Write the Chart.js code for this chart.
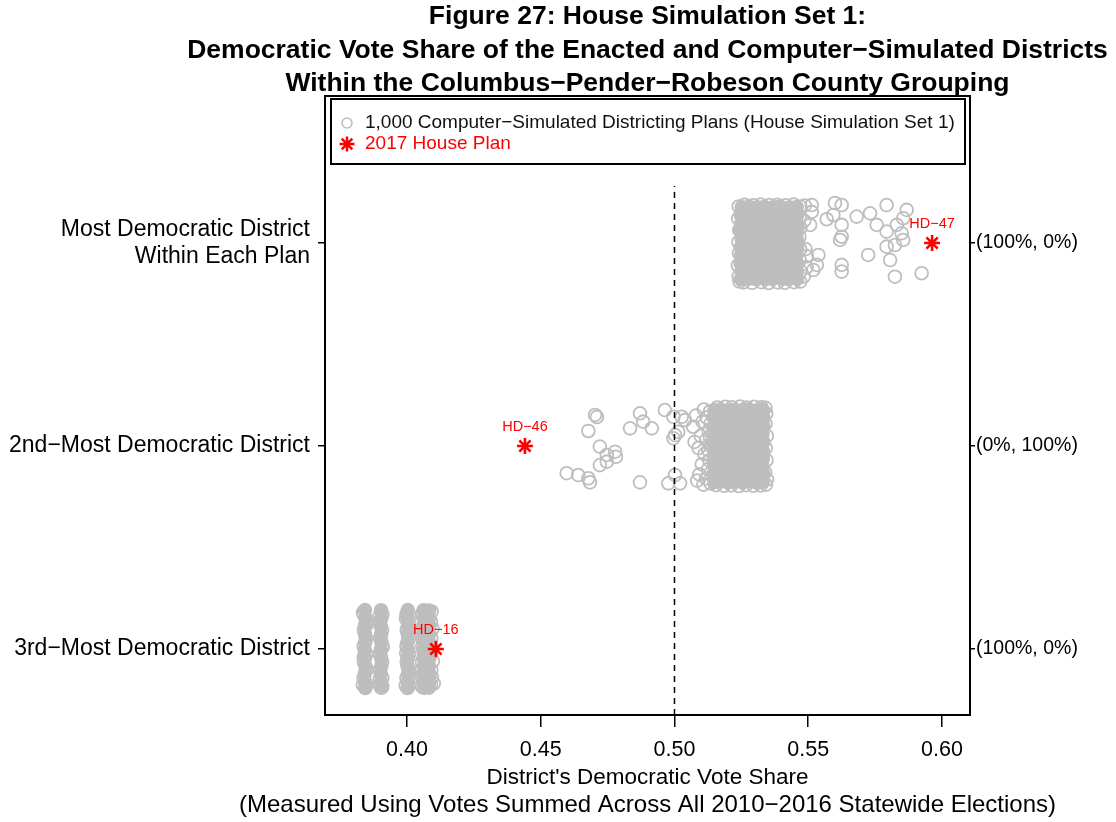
<!DOCTYPE html>
<html>
<head>
<meta charset="utf-8">
<script src="https://cdn.jsdelivr.net/npm/chart.js@4/dist/chart.umd.min.js"></script>
<style>
  html, body { margin: 0; padding: 0; background: #ffffff; }
  #c { display: block; }
</style>
</head>
<body>
<canvas id="c" width="1116" height="822"></canvas>
<script>
// ---- Rows (bottom to top) and the seat outcome shown at the right of each row ----
const districtRows = [
  "3rd\u2212Most Democratic District",
  "2nd\u2212Most Democratic District",
  ["Most Democratic District", "Within Each Plan"]
];
const outcomeLabels = ["(100%, 0%)", "(0%, 100%)", "(100%, 0%)"];
const xTicks = [0.40, 0.45, 0.50, 0.55, 0.60];
const xTitleLines = [
  "District's Democratic Vote Share",
  "(Measured Using Votes Summed Across All 2010\u22122016 Statewide Elections)"
];

// ---- 2017 enacted plan ----
const enactedNames = ["HD\u221216", "HD\u221246", "HD\u221247"];
const enactedShare = [0.4108, 0.4441, 0.5963];

// ---- Simulated plans: [Democratic vote share, vertical jitter within the row] ----
// Most Democratic district (row 3): dense body, its rim, and the scattered high values
const mostDemBody = [
  [0.5251,0.176],[0.5278,0.179],[0.5310,0.175],[0.5336,0.178],[0.5370,0.176],[0.5396,0.179],[0.5430,0.175],[0.5457,0.177],
  [0.5248,0.139],[0.5281,0.136],[0.5307,0.140],[0.5340,0.137],[0.5366,0.139],[0.5399,0.136],[0.5426,0.140],[0.5459,0.138],
  [0.5250,0.097],[0.5277,0.101],[0.5309,0.098],[0.5337,0.100],[0.5369,0.097],[0.5397,0.101],[0.5429,0.098],[0.5456,0.100],
  [0.5247,0.060],[0.5280,0.058],[0.5306,0.061],[0.5339,0.057],[0.5367,0.060],[0.5400,0.058],[0.5427,0.061],[0.5458,0.059],
  [0.5251,0.019],[0.5278,0.022],[0.5310,0.018],[0.5336,0.021],[0.5370,0.019],[0.5396,0.022],[0.5430,0.018],[0.5457,0.020],
  [0.5248,-0.021],[0.5281,-0.018],[0.5307,-0.022],[0.5340,-0.019],[0.5366,-0.021],[0.5399,-0.018],[0.5426,-0.022],[0.5459,-0.020],
  [0.5250,-0.058],[0.5277,-0.061],[0.5309,-0.057],[0.5337,-0.060],[0.5369,-0.058],[0.5397,-0.061],[0.5429,-0.057],[0.5456,-0.059],
  [0.5247,-0.100],[0.5280,-0.097],[0.5306,-0.101],[0.5339,-0.098],[0.5367,-0.100],[0.5400,-0.097],[0.5427,-0.101],[0.5458,-0.099],
  [0.5251,-0.137],[0.5278,-0.140],[0.5310,-0.136],[0.5336,-0.139],[0.5370,-0.137],[0.5396,-0.140],[0.5430,-0.136],[0.5457,-0.138],
  [0.5248,-0.178],[0.5281,-0.175],[0.5307,-0.179],[0.5340,-0.176],[0.5366,-0.178],[0.5399,-0.175],[0.5426,-0.179],[0.5459,-0.177]
];
const mostDemRim = [
  [0.5240,0.180],[0.5238,0.120],[0.5242,0.065],[0.5239,0.005],[0.5241,-0.050],[0.5237,-0.110],[0.5240,-0.165],[0.5243,-0.190],
  [0.5262,0.188],[0.5295,0.186],[0.5322,0.189],[0.5355,0.187],[0.5384,0.188],[0.5415,0.186],[0.5445,0.189],
  [0.5258,-0.194],[0.5290,-0.196],[0.5325,-0.193],[0.5352,-0.197],[0.5386,-0.194],[0.5412,-0.196],[0.5447,-0.193],[0.5470,-0.190],
  [0.5470,0.180],[0.5468,0.130],[0.5471,0.075],[0.5467,0.030],[0.5470,-0.030],[0.5468,-0.085],[0.5471,-0.140],
  [0.5487,0.185],[0.5485,0.110],[0.5490,-0.030],[0.5495,-0.065],[0.5494,-0.120],[0.5483,-0.165]
];
const mostDemTail = [
  [0.5513,0.187],[0.5513,0.153],[0.5507,0.089],[0.5600,0.197],[0.5625,0.187],[0.5569,0.117],[0.5594,0.138],
  [0.5625,0.089],[0.5619,0.015],[0.5625,0.031],[0.5681,0.130],[0.5731,0.146],[0.5793,0.187],[0.5868,0.163],
  [0.5756,0.089],[0.5793,0.056],[0.5831,0.089],[0.5855,0.122],[0.5849,0.048],[0.5855,0.015],[0.5793,-0.018],
  [0.5824,-0.010],[0.5724,-0.059],[0.5806,-0.084],[0.5625,-0.108],[0.5625,-0.141],[0.5538,-0.059],[0.5532,-0.108],
  [0.5519,-0.133],[0.5824,-0.166],[0.5924,-0.149]
];

// 2nd-most Democratic district (row 2)
const secondBody = [
  [0.5149,0.176],[0.5173,0.179],[0.5201,0.175],[0.5225,0.178],[0.5253,0.176],[0.5278,0.179],[0.5306,0.175],[0.5330,0.177],
  [0.5147,0.139],[0.5175,0.136],[0.5199,0.140],[0.5227,0.137],[0.5251,0.139],[0.5280,0.136],[0.5304,0.140],[0.5332,0.138],
  [0.5148,0.097],[0.5174,0.101],[0.5200,0.098],[0.5226,0.100],[0.5252,0.097],[0.5279,0.101],[0.5305,0.098],[0.5331,0.100],
  [0.5150,0.060],[0.5172,0.058],[0.5202,0.061],[0.5224,0.057],[0.5254,0.060],[0.5277,0.058],[0.5307,0.061],[0.5329,0.059],
  [0.5147,0.019],[0.5175,0.022],[0.5199,0.018],[0.5227,0.021],[0.5251,0.019],[0.5280,0.022],[0.5304,0.018],[0.5332,0.020],
  [0.5149,-0.021],[0.5173,-0.018],[0.5201,-0.022],[0.5225,-0.019],[0.5253,-0.021],[0.5278,-0.018],[0.5306,-0.022],[0.5330,-0.020],
  [0.5148,-0.058],[0.5174,-0.061],[0.5200,-0.057],[0.5226,-0.060],[0.5252,-0.058],[0.5279,-0.061],[0.5305,-0.057],[0.5331,-0.059],
  [0.5150,-0.100],[0.5172,-0.097],[0.5202,-0.101],[0.5224,-0.098],[0.5254,-0.100],[0.5277,-0.097],[0.5307,-0.101],[0.5329,-0.099],
  [0.5147,-0.137],[0.5175,-0.140],[0.5199,-0.136],[0.5227,-0.139],[0.5251,-0.137],[0.5280,-0.140],[0.5304,-0.136],[0.5332,-0.138],
  [0.5149,-0.178],[0.5173,-0.175],[0.5201,-0.179],[0.5225,-0.176],[0.5253,-0.178],[0.5278,-0.175],[0.5306,-0.179],[0.5330,-0.177]
];
const secondRim = [
  [0.5160,0.190],[0.5190,0.193],[0.5215,0.191],[0.5245,0.194],[0.5270,0.190],[0.5298,0.193],[0.5325,0.191],[0.5340,0.188],
  [0.5155,-0.193],[0.5185,-0.196],[0.5212,-0.194],[0.5240,-0.197],[0.5268,-0.193],[0.5295,-0.196],[0.5322,-0.194],[0.5342,-0.190],
  [0.5343,0.160],[0.5340,0.110],[0.5345,0.050],[0.5341,-0.010],[0.5344,-0.070],[0.5339,-0.130],[0.5346,-0.165],
  [0.5133,0.170],[0.5120,0.140],[0.5135,0.110],[0.5105,0.120],[0.5128,0.075],[0.5098,0.050],[0.5118,0.030],[0.5136,0.000],
  [0.5090,-0.010],[0.5112,-0.040],[0.5130,-0.070],[0.5102,-0.090],[0.5125,-0.115],[0.5093,-0.140],[0.5118,-0.160],
  [0.5135,-0.185],[0.5108,-0.190],[0.5080,0.150],[0.5085,-0.170],[0.5075,0.020],[0.5132,0.045],[0.5126,-0.020],[0.5110,0.180]
];
const secondTail = [
  [0.4703,0.153],[0.4710,0.143],[0.4678,0.074],[0.4721,-0.003],[0.4747,-0.044],[0.4778,-0.028],[0.4781,-0.053],
  [0.4721,-0.094],[0.4747,-0.077],[0.4597,-0.134],[0.4640,-0.143],[0.4678,-0.159],[0.4684,-0.179],[0.4871,0.161],
  [0.4883,0.120],[0.4834,0.087],[0.4915,0.087],[0.4871,-0.179],[0.4964,0.177],[0.4996,0.144],[0.5027,0.144],
  [0.5039,0.128],[0.5002,0.054],[0.5014,0.070],[0.4996,0.038],[0.5002,-0.143],[0.4977,-0.184],[0.5021,-0.184],
  [0.5070,0.095]
];

// 3rd-most Democratic district (row 1): four narrow bands of values
const thirdBody = [
  [0.3843,0.192],[0.3844,0.153],[0.3842,0.113],[0.3843,0.074],[0.3844,0.035],[0.3842,-0.004],[0.3843,-0.044],[0.3844,-0.083],[0.3842,-0.123],[0.3843,-0.162],[0.3844,-0.192],
  [0.3903,0.191],[0.3904,0.152],[0.3902,0.114],[0.3903,0.073],[0.3904,0.036],[0.3902,-0.005],[0.3903,-0.043],[0.3904,-0.084],[0.3902,-0.122],[0.3903,-0.163],[0.3904,-0.191],
  [0.4003,0.192],[0.4002,0.153],[0.4004,0.113],[0.4003,0.074],[0.4002,0.035],[0.4004,-0.004],[0.4003,-0.044],[0.4002,-0.083],[0.4004,-0.123],[0.4003,-0.162],[0.4002,-0.192],
  [0.4062,0.191],[0.4063,0.152],[0.4061,0.114],[0.4062,0.073],[0.4063,0.036],[0.4061,-0.005],[0.4062,-0.043],[0.4063,-0.084],[0.4061,-0.122],[0.4062,-0.163],[0.4063,-0.191],
  [0.4083,0.190],[0.4082,0.153],[0.4084,0.112],[0.4083,0.075],[0.4082,0.034],[0.4084,-0.003],[0.4083,-0.045],[0.4082,-0.082],[0.4084,-0.124],[0.4083,-0.161],[0.4082,-0.190]
];
const thirdRim = [
  [0.3838,0.172],[0.3848,0.133],[0.3839,0.094],[0.3847,0.054],[0.3838,0.015],[0.3848,-0.024],[0.3839,-0.064],[0.3847,-0.103],[0.3838,-0.142],[0.3848,-0.177],
  [0.3908,0.172],[0.3898,0.133],[0.3907,0.094],[0.3899,0.054],[0.3908,0.015],[0.3898,-0.024],[0.3907,-0.064],[0.3899,-0.103],[0.3908,-0.142],[0.3898,-0.177],
  [0.3998,0.172],[0.4008,0.133],[0.3999,0.094],[0.4007,0.054],[0.3998,0.015],[0.4008,-0.024],[0.3999,-0.064],[0.4007,-0.103],[0.3998,-0.142],[0.4008,-0.177],
  [0.4057,0.172],[0.4090,0.133],[0.4056,0.094],[0.4091,0.054],[0.4057,0.015],[0.4090,-0.024],[0.4056,-0.064],[0.4091,-0.103],[0.4057,-0.142],[0.4090,-0.177],
  [0.3836,0.180],[0.3838,-0.040],[0.3835,-0.177],[0.3849,0.120],[0.3850,-0.100],
  [0.3897,0.160],[0.3909,0.010],[0.3898,-0.150],[0.3908,-0.185],
  [0.3996,0.150],[0.4008,0.060],[0.3997,-0.020],[0.4009,-0.130],[0.3995,-0.180],
  [0.4055,0.170],[0.4092,0.185],[0.4095,0.100],[0.4090,0.020],[0.4097,-0.060],[0.4093,-0.140],
  [0.4100,-0.170],[0.4056,-0.185],[0.4058,0.050],[0.4056,-0.100]
];

// ---- Build chart points from the arrays above (row index + jitter) ----
const onRow = (pairs, row) => pairs.map(([x, j]) => ({ x: x, y: row + j }));
const simBody = [].concat(onRow(thirdBody, 1), onRow(secondBody, 2), onRow(mostDemBody, 3));
const simRings = [].concat(
  onRow(thirdRim, 1),
  onRow(secondRim, 2), onRow(secondTail, 2),
  onRow(mostDemRim, 3), onRow(mostDemTail, 3)
);
const enactedPoints = enactedShare.map((v, i) => ({ x: v, y: i + 1 }));

const GREY = "#bebebe";
const RED = "#ff0000";
const FONT = "'Liberation Sans', Arial, Helvetica, sans-serif";

const Y_MIN = 0.675, Y_MAX = 3.724;
const X_MIN = 0.36935, X_MAX = 0.61047;
const MIDLINE_TOP = 3.281;

// Title above the panel and the x-axis caption below it, centred on the plotting region
const textPlugin = {
  id: "figText",
  afterDraw(chart) {
    const { ctx, chartArea: a } = chart;
    const cx = (a.left + a.right) / 2;
    const lines = [
      "Figure 27: House Simulation Set 1:",
      "Democratic Vote Share of the Enacted and Computer\u2212Simulated Districts",
      "Within the Columbus\u2212Pender\u2212Robeson County Grouping"
    ];
    const ys = [17, 51, 84];
    ctx.save();
    ctx.fillStyle = "#000";
    ctx.textAlign = "center";
    ctx.textBaseline = "middle";
    ctx.font = "bold 26.5px " + FONT;
    lines.forEach((t, i) => ctx.fillText(t, cx, ys[i]));
    ctx.font = "22.5px " + FONT;
    ctx.fillText(xTitleLines[0], cx, a.bottom + 63);
    ctx.font = "24px " + FONT;
    ctx.fillText(xTitleLines[1], cx, a.bottom + 90);
    ctx.restore();
  }
};

// Panel frame and the key box in its top area
const framePlugin = {
  id: "frameAndKey",
  afterDraw(chart) {
    const { ctx, chartArea: a } = chart;
    ctx.save();
    ctx.strokeStyle = "#000";
    ctx.lineWidth = 2;
    ctx.strokeRect(a.left, a.top, a.right - a.left, a.bottom - a.top);

    const bx = a.left + 6, by = a.top + 3, bw = (a.right - 5) - bx, bh = 65;
    ctx.fillStyle = "#fff";
    ctx.fillRect(bx, by, bw, bh);
    ctx.strokeRect(bx, by, bw, bh);

    const mx = bx + 16, y1 = by + 24, y2 = by + 45;
    ctx.lineWidth = 1.6;
    ctx.strokeStyle = GREY;
    ctx.beginPath();
    ctx.arc(mx, y1, 5, 0, Math.PI * 2);
    ctx.stroke();

    ctx.strokeStyle = RED;
    ctx.lineWidth = 2.5;
    const r = 7.5, d = r * Math.SQRT1_2;
    ctx.beginPath();
    ctx.moveTo(mx - r, y2); ctx.lineTo(mx + r, y2);
    ctx.moveTo(mx, y2 - r); ctx.lineTo(mx, y2 + r);
    ctx.moveTo(mx - d, y2 - d); ctx.lineTo(mx + d, y2 + d);
    ctx.moveTo(mx - d, y2 + d); ctx.lineTo(mx + d, y2 - d);
    ctx.stroke();

    ctx.font = "19px " + FONT;
    ctx.textAlign = "left";
    ctx.textBaseline = "middle";
    ctx.fillStyle = "#111";
    ctx.fillText("1,000 Computer\u2212Simulated Districting Plans (House Simulation Set 1)", bx + 34, y1);
    ctx.fillStyle = RED;
    ctx.fillText("2017 House Plan", bx + 34, y2);
    ctx.restore();
  }
};

// District names above the enacted-plan markers
const enactedLabelPlugin = {
  id: "enactedLabels",
  afterDatasetsDraw(chart) {
    const meta = chart.getDatasetMeta(3);
    const { ctx } = chart;
    ctx.save();
    ctx.fillStyle = RED;
    ctx.font = "14.5px " + FONT;
    ctx.textAlign = "center";
    ctx.textBaseline = "middle";
    meta.data.forEach((pt, i) => ctx.fillText(enactedNames[i], pt.x, pt.y - 19));
    ctx.restore();
  }
};

const tickGrid = (len) => ({
  drawOnChartArea: false, drawTicks: true, tickLength: len, color: "#000", lineWidth: 1.5
});

new Chart(document.getElementById("c"), {
  type: "scatter",
  data: {
    datasets: [
      {
        label: "sim-body", data: simBody, order: 4,
        pointRadius: 6.4, borderWidth: 1.8, borderColor: GREY, backgroundColor: GREY
      },
      {
        label: "sim-rings", data: simRings, order: 3,
        pointRadius: 6.4, borderWidth: 1.8, borderColor: GREY, backgroundColor: "rgba(0,0,0,0)"
      },
      {
        label: "midline", data: [{ x: 0.5, y: Y_MIN }, { x: 0.5, y: MIDLINE_TOP }], order: 2,
        showLine: true, pointRadius: 0, borderColor: "#000", borderWidth: 1.5, borderDash: [6, 5]
      },
      {
        label: "enacted", data: enactedPoints, order: 1,
        pointStyle: "star", pointRadius: 8, borderWidth: 2.6, borderColor: RED, backgroundColor: RED
      }
    ]
  },
  options: {
    responsive: false,
    animation: false,
    devicePixelRatio: 1,
    events: [],
    layout: { padding: { top: 96, left: 0, right: 0, bottom: 0 } },
    plugins: { legend: { display: false }, title: { display: false }, tooltip: { enabled: false } },
    scales: {
      x: {
        type: "linear", min: X_MIN, max: X_MAX,
        afterBuildTicks: (s) => { s.ticks = xTicks.map(v => ({ value: v })); },
        afterFit: (s) => { s.height = 107; },
        grid: tickGrid(12),
        border: { display: false },
        ticks: { color: "#000", padding: 10, font: { family: FONT, size: 21.5 }, callback: (v) => Number(v).toFixed(2) },
        title: { display: false }
      },
      y: {
        type: "linear", position: "left", min: Y_MIN, max: Y_MAX,
        afterBuildTicks: (s) => { s.ticks = [1, 2, 3].map(v => ({ value: v })); },
        afterFit: (s) => { s.width = 325; },
        grid: tickGrid(7),
        border: { display: false },
        ticks: { color: "#000", padding: 8, font: { family: FONT, size: 23, lineHeight: 1.18 },
                 callback: (v) => districtRows[Math.round(v) - 1] }
      },
      y2: {
        type: "linear", position: "right", min: Y_MIN, max: Y_MAX,
        afterBuildTicks: (s) => { s.ticks = [1, 2, 3].map(v => ({ value: v })); },
        afterFit: (s) => { s.width = 146; },
        grid: tickGrid(5),
        border: { display: false },
        ticks: { color: "#000", padding: 1, font: { family: FONT, size: 19.5 },
                 callback: (v) => outcomeLabels[Math.round(v) - 1] }
      }
    }
  },
  plugins: [textPlugin, framePlugin, enactedLabelPlugin]
});
</script>
</body>
</html>
